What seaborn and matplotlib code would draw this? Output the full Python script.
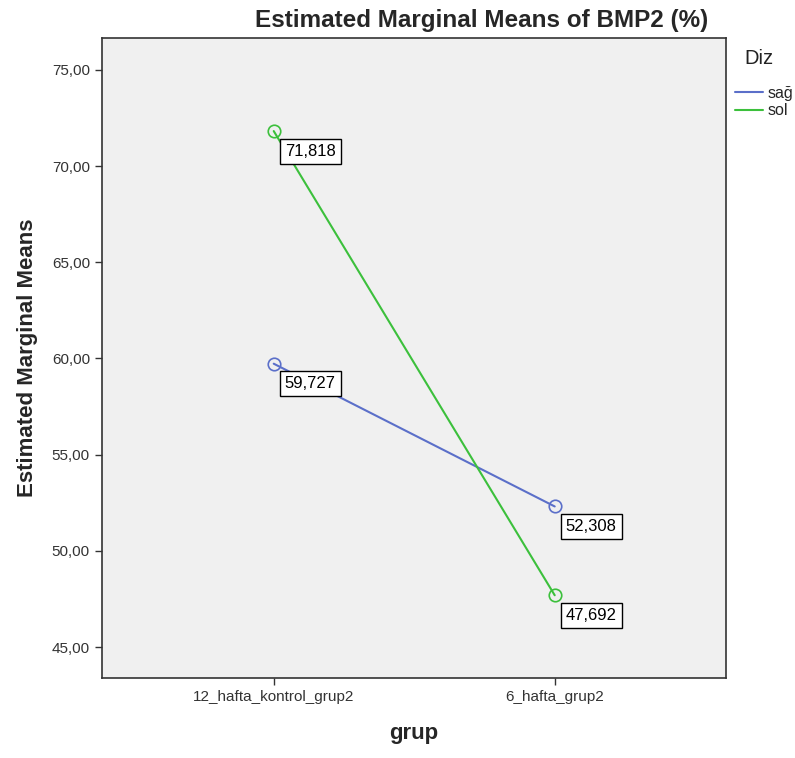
import numpy as np
import pandas as pd
import seaborn as sns
import matplotlib.pyplot as plt

# values
grup = ["12_hafta_kontrol_grup2", "6_hafta_grup2"]
sag = [59.727, 52.308]
sol = [71.818, 47.692]
diz_levels = ["sağ", "sol"]
yticks = [45, 50, 55, 60, 65, 70, 75]

df = pd.DataFrame({
    "grup": grup * 2,
    "mean": sag + sol,
    "Diz": [diz_levels[0]] * 2 + [diz_levels[1]] * 2,
})

sns.set_style("white")
plt.rcParams['font.family'] = ['Liberation Sans', 'DejaVu Sans']

fig = plt.figure(figsize=(7.95, 7.58), dpi=100)
ax = fig.add_axes([0.128, 0.1055, 0.785, 0.8445])
ax.set_facecolor("#f0f0f0")

palette = {"sağ": "#5b6fc9", "sol": "#3cc03c"}
sns.lineplot(data=df, x="grup", y="mean", hue="Diz", palette=palette,
             marker="o", markersize=9, markerfacecolor="none",
             markeredgewidth=1.2, linewidth=1.5, ax=ax)
for ln in ax.lines:
    ln.set_markeredgecolor(ln.get_color())

# value boxes next to the points
for _, r in df.iterrows():
    ax.annotate(f"{r['mean']:.3f}".replace(".", ","), (grup.index(r["grup"]), r["mean"]),
                xytext=(8, -9), textcoords="offset points", ha="left", va="top",
                fontsize=12, color="black",
                bbox=dict(boxstyle="square,pad=0.3", fc="white", ec="black", lw=1))

ax.set_xlim(-0.612, 1.609)
ax.set_ylim(43.39, 76.66)
ax.set_yticks(yticks)
ax.set_yticklabels([f"{v:.2f}".replace(".", ",") for v in yticks])
ax.tick_params(axis="both", length=5, width=1, colors="#333333", labelsize=11,
               direction="out", left=True, bottom=True, labelcolor="#333333")
for s in ax.spines.values():
    s.set_color("#333333")
    s.set_linewidth(1.2)

ax.set_xlabel("grup", fontsize=16, fontweight="bold", labelpad=14)
ax.set_ylabel("Estimated Marginal Means", fontsize=16, fontweight="bold", labelpad=10)
ax.set_title("Estimated Marginal Means of BMP2 (%)", fontsize=17.5, fontweight="bold",
             loc="center", pad=8, x=0.608)

leg = ax.legend(loc="upper left", bbox_to_anchor=(1.0, 0.94),
                frameon=False, fontsize=11.5, handlelength=1.7,
                handletextpad=0.3, labelspacing=0.15, borderaxespad=0.2)
for h in leg.legend_handles:
    h.set_marker("")
fig.text(759 / 795, 1 - 58 / 758, "Diz", ha="center", va="center", fontsize=14.5,
         color="#222222")

fig.savefig("out.png", dpi=100)
